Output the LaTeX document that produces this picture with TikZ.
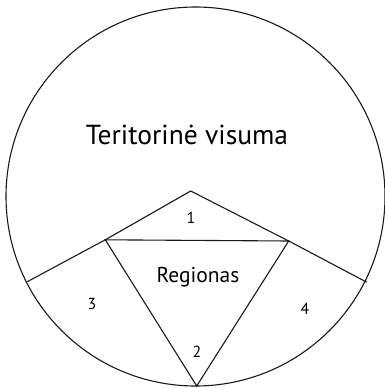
\documentclass[tikz,border=0pt]{standalone}
\usepackage{fontspec}
\setmainfont{PT Sans}
\begin{document}
\begin{tikzpicture}[x=1pt,y=-1pt,
  edge/.style={draw=black!90,line width=1.1pt,line join=miter},
  big/.style={font=\fontsize{27.5}{30}\selectfont,inner sep=0pt},
  mid/.style={font=\fontsize{21.5}{24}\selectfont,inner sep=0pt},
  small/.style={font=\fontsize{16}{19}\selectfont,inner sep=0pt}]
\useasboundingbox (0,0) rectangle (385,388);
\node[edge,circle,minimum size=379pt,inner sep=0pt] (c) at (195.5,196.5) {};
\coordinate (top) at (190.7,191);
\coordinate (lv) at (105.3,239.8);
\coordinate (rv) at (288.7,241);
\coordinate (bv) at (196.7,386);
\coordinate (lc) at (27.3,281.7);
\coordinate (rc) at (366.7,282.2);
\draw[edge] (lc) -- (lv) -- (top) -- (rv) -- (rc);
\draw[edge] (lv) -- (rv) -- (bv) -- cycle;
\node[big] (tv) at (187,135) {Teritorinė visuma};
\node[mid] (reg) at (198,277) {Regionas};
\node[small] (n1) at (191,218) {1};
\node[small] (n2) at (197,352) {2};
\node[small] (n3) at (92,304) {3};
\node[small] (n4) at (305,309) {4};
\end{tikzpicture}
\end{document}
